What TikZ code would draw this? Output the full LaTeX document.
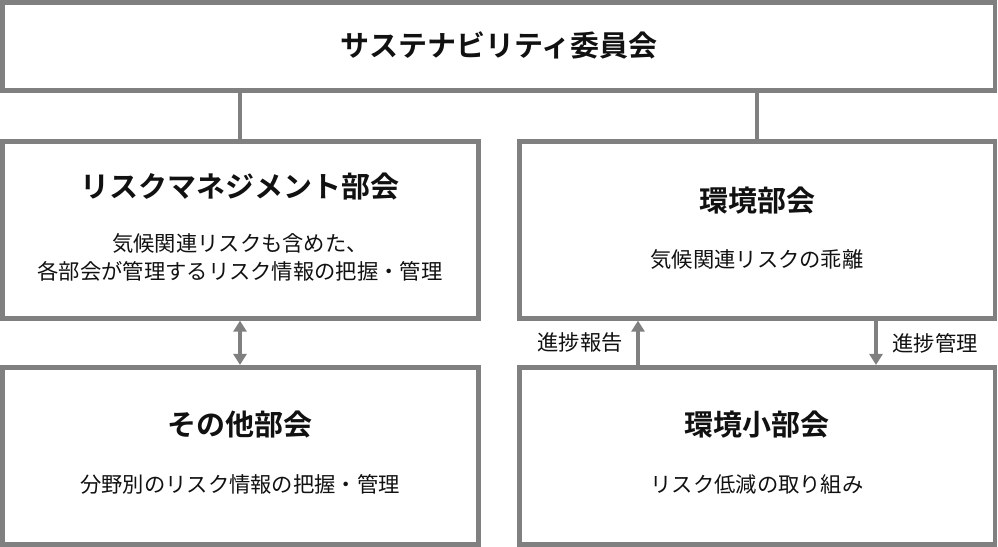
\documentclass[tikz,border=0pt]{standalone}
\usepackage{fontspec}
\newfontfamily\jpreg{Noto Sans CJK JP}
\newfontfamily\jpbold{Noto Sans CJK JP Bold}
\usetikzlibrary{arrows.meta}
\definecolor{boxgray}{HTML}{808080}
\definecolor{txt}{HTML}{111111}
\tikzset{
  box/.style={draw=boxgray, line width=4.7bp, rectangle, inner sep=0pt},
  conn/.style={draw=boxgray, line width=4bp},
  arr/.style={draw=boxgray, line width=3.3bp, -{Triangle[width=13bp,length=11bp]}},
  darr/.style={draw=boxgray, line width=3.3bp, {Triangle[width=13bp,length=11bp]}-{Triangle[width=13bp,length=11bp]}},
  ttl/.style={font=\jpbold\fontsize{29bp}{34bp}\selectfont, text=txt, inner sep=0pt},
  bdy/.style={font=\jpreg\fontsize{21.3bp}{28bp}\selectfont, text=txt, inner sep=0pt, align=center},
}
\begin{document}
\begin{tikzpicture}[x=1bp,y=-1bp]
\useasboundingbox (0,0) rectangle (998,547);
% boxes
\node[box, minimum width=992.6bp, minimum height=88bp] (top) at (498.7,46.3) {};
\node[box, minimum width=476bp, minimum height=176.6bp] (lb) at (240.3,230) {};
\node[box, minimum width=476bp, minimum height=177bp] (lb2) at (240.3,455.8) {};
\node[box, minimum width=475.3bp, minimum height=176.6bp] (rb) at (757.35,230) {};
\node[box, minimum width=475.3bp, minimum height=177bp] (rb2) at (757.35,455.8) {};
% texts
\node[ttl] (t0) at (499,45) {サステナビリティ委員会};
\node[ttl] (t1) at (240,187) {リスクマネジメント部会};
\node[bdy] (b1) at (240,257) {気候関連リスクも含めた、\\各部会が管理するリスク情報の把握・管理};
\node[ttl] (t2) at (757,201) {環境部会};
\node[bdy] (b2) at (757,259) {気候関連リスクの乖離};
\node[ttl] (t3) at (240,425) {その他部会};
\node[bdy] (b3) at (240,484) {分野別のリスク情報の把握・管理};
\node[ttl] (t4) at (757,425) {環境小部会};
\node[bdy] (b4) at (757,484) {リスク低減の取り組み};
\node[bdy] (l1) at (580,343) {進捗報告};
\node[bdy] (l2) at (935,343) {進捗管理};
% connectors
\coordinate (cl) at (240,0);
\coordinate (cr) at (757,0);
\coordinate (au) at (638,0);
\coordinate (ad) at (876,0);
\draw[conn] (top.south -| cl) -- (lb.north -| cl);
\draw[conn] (top.south -| cr) -- (rb.north -| cr);
\draw[darr] (lb.south -| cl) -- (lb2.north -| cl);
\draw[arr] (rb2.north -| au) -- (rb.south -| au);
\draw[arr] (rb.south -| ad) -- (rb2.north -| ad);
\end{tikzpicture}
\end{document}
